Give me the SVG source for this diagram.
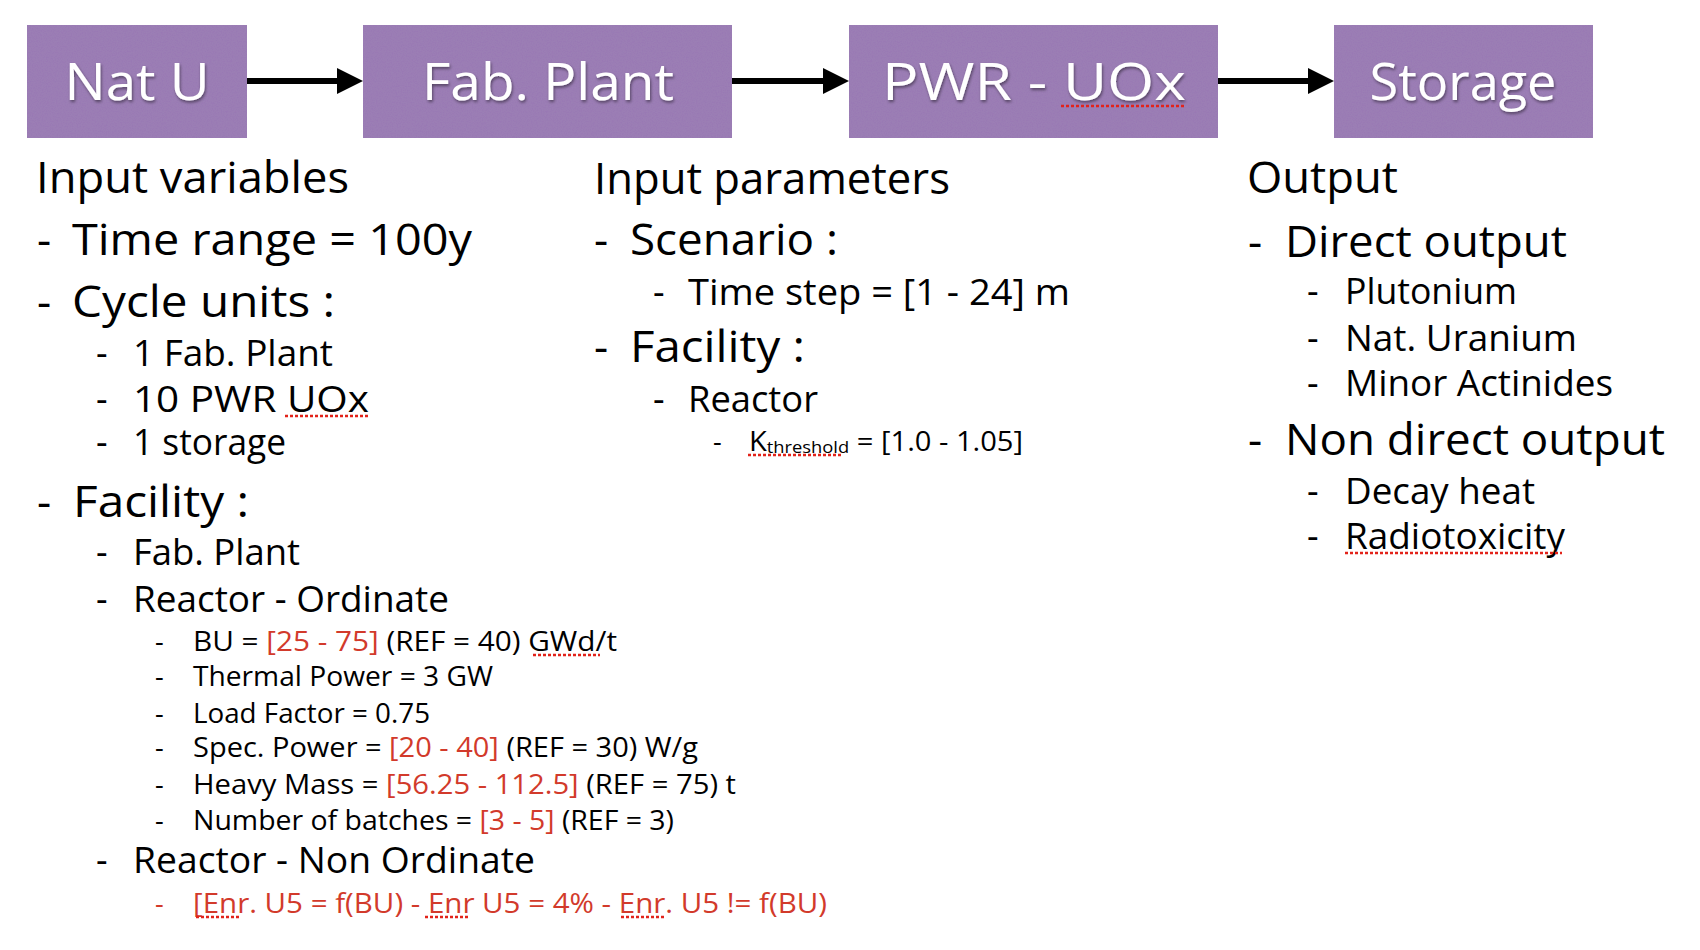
<svg xmlns="http://www.w3.org/2000/svg" width="1700" height="950" viewBox="0 0 1700 950">
<defs>
<style>
.t{font-family:"Open Sans","Liberation Sans",sans-serif;fill:#000}
.l1{font-size:44px}
.l2{font-size:36px}
.l3{font-size:27px}
.red{fill:#d23a2b}
.box{fill:#9878b4}
.bt{font-family:"Open Sans","Liberation Sans",sans-serif;font-size:52px;fill:#fff;text-anchor:middle;filter:url(#shadow)}
.sq{stroke:#e2231a;stroke-width:2.5;stroke-dasharray:3 2;fill:none}
.conn{stroke:#000;stroke-width:6;fill:none;marker-end:url(#arrow)}
</style>
<marker id="arrow" markerUnits="userSpaceOnUse" markerWidth="26" markerHeight="26" refX="3" refY="13" orient="auto">
<path d="M0,0 L26,13 L0,26 z" fill="#000"/>
</marker>
<filter id="shadow" x="-10%" y="-20%" width="120%" height="150%">
<feDropShadow dx="1" dy="2" stdDeviation="1.5" flood-color="#000" flood-opacity="0.45"/>
</filter>
<filter id="grain" x="0" y="0" width="100%" height="100%">
<feTurbulence type="fractalNoise" baseFrequency="0.8" numOctaves="2" seed="3" result="n"/>
<feColorMatrix in="n" type="matrix" values="0 0 0 0 0.5  0 0 0 0 0.45  0 0 0 0 0.55  0 0 0 0.12 0" result="g"/>
<feComposite in="g" in2="SourceGraphic" operator="in" result="gi"/>
<feMerge><feMergeNode in="SourceGraphic"/><feMergeNode in="gi"/></feMerge>
</filter>
</defs>
<rect width="1700" height="950" fill="#fff"/>

<g id="node-natu">
<rect class="box" x="27" y="25" width="220" height="113" filter="url(#grain)"/>
<text class="bt" x="137" y="100" textLength="145" lengthAdjust="spacingAndGlyphs">Nat U</text>
</g>
<g id="node-fabplant">
<rect class="box" x="363" y="25" width="369" height="113" filter="url(#grain)"/>
<text class="bt" x="548" y="100" textLength="252" lengthAdjust="spacingAndGlyphs">Fab. Plant</text>
</g>
<g id="node-pwr">
<rect class="box" x="849" y="25" width="369" height="113" filter="url(#grain)"/>
<text class="bt" x="1034" y="100" textLength="304" lengthAdjust="spacingAndGlyphs">PWR - UOx</text>
<line class="sq" x1="1061" y1="106" x2="1186" y2="106"/>
</g>
<g id="node-storage">
<rect class="box" x="1334" y="25" width="259" height="113" filter="url(#grain)"/>
<text class="bt" x="1463" y="100" textLength="187" lengthAdjust="spacingAndGlyphs">Storage</text>
</g>

<g id="connectors">
<line class="conn" x1="247" y1="81" x2="340" y2="81"/>
<line class="conn" x1="732" y1="81" x2="826" y2="81"/>
<line class="conn" x1="1218" y1="81" x2="1311" y2="81"/>
</g>

<g id="input-variables" class="t">
<text class="l1" x="36" y="193" textLength="313" lengthAdjust="spacingAndGlyphs">Input variables</text>
<text class="l1" x="37" y="255">-</text>
<text class="l1" x="72" y="255" textLength="400" lengthAdjust="spacingAndGlyphs">Time range = 100y</text>
<text class="l1" x="37" y="317">-</text>
<text class="l1" x="72" y="317" textLength="263" lengthAdjust="spacingAndGlyphs">Cycle units :</text>
<text class="l2" x="96" y="366">-</text>
<text class="l2" x="133" y="366" textLength="200" lengthAdjust="spacingAndGlyphs">1 Fab. Plant</text>
<text class="l2" x="96" y="412">-</text>
<text class="l2" x="133" y="412" textLength="236" lengthAdjust="spacingAndGlyphs">10 PWR UOx</text>
<line class="sq" x1="285" y1="416" x2="370" y2="416"/>
<text class="l2" x="96" y="455">-</text>
<text class="l2" x="133" y="455" textLength="153" lengthAdjust="spacingAndGlyphs">1 storage</text>
<text class="l1" x="37" y="517">-</text>
<text class="l1" x="73" y="517" textLength="176" lengthAdjust="spacingAndGlyphs">Facility :</text>
<text class="l2" x="96" y="565">-</text>
<text class="l2" x="133" y="565" textLength="167" lengthAdjust="spacingAndGlyphs">Fab. Plant</text>
<text class="l2" x="96" y="612">-</text>
<text class="l2" x="133" y="612" textLength="316" lengthAdjust="spacingAndGlyphs">Reactor - Ordinate</text>
<text class="l3" x="155" y="651">-</text>
<text class="l3" x="193" y="651" textLength="424" lengthAdjust="spacingAndGlyphs">BU = <tspan class="red">[25 - 75]</tspan> (REF = 40) GWd/t</text>
<line class="sq" x1="533" y1="655" x2="600" y2="655"/>
<text class="l3" x="155" y="686">-</text>
<text class="l3" x="193" y="686" textLength="300" lengthAdjust="spacingAndGlyphs">Thermal Power = 3 GW</text>
<text class="l3" x="155" y="723">-</text>
<text class="l3" x="193" y="723" textLength="237" lengthAdjust="spacingAndGlyphs">Load Factor = 0.75</text>
<text class="l3" x="155" y="757">-</text>
<text class="l3" x="193" y="757" textLength="505" lengthAdjust="spacingAndGlyphs">Spec. Power = <tspan class="red">[20 - 40]</tspan> (REF = 30) W/g</text>
<text class="l3" x="155" y="794">-</text>
<text class="l3" x="193" y="794" textLength="543" lengthAdjust="spacingAndGlyphs">Heavy Mass = <tspan class="red">[56.25 - 112.5]</tspan> (REF = 75) t</text>
<text class="l3" x="155" y="830">-</text>
<text class="l3" x="193" y="830" textLength="481" lengthAdjust="spacingAndGlyphs">Number of batches = <tspan class="red">[3 - 5]</tspan> (REF = 3)</text>
<text class="l2" x="96" y="873">-</text>
<text class="l2" x="133" y="873" textLength="402" lengthAdjust="spacingAndGlyphs">Reactor - Non Ordinate</text>
<text class="l3 red" x="155" y="913">-</text>
<text class="l3 red" x="193" y="913" textLength="634" lengthAdjust="spacingAndGlyphs">[Enr. U5 = f(BU) - Enr U5 = 4% - Enr. U5 != f(BU)</text>
<line class="sq" x1="196" y1="917" x2="239" y2="917"/>
<line class="sq" x1="425" y1="917" x2="468" y2="917"/>
<line class="sq" x1="621" y1="917" x2="665" y2="917"/>
</g>

<g id="input-parameters" class="t">
<text class="l1" x="594" y="194" textLength="356" lengthAdjust="spacingAndGlyphs">Input parameters</text>
<text class="l1" x="594" y="255">-</text>
<text class="l1" x="630" y="255" textLength="208" lengthAdjust="spacingAndGlyphs">Scenario :</text>
<text class="l2" x="653" y="305">-</text>
<text class="l2" x="688" y="305" textLength="382" lengthAdjust="spacingAndGlyphs">Time step = [1 - 24] m</text>
<text class="l1" x="594" y="362">-</text>
<text class="l1" x="630" y="362" textLength="175" lengthAdjust="spacingAndGlyphs">Facility :</text>
<text class="l2" x="653" y="412">-</text>
<text class="l2" x="688" y="412" textLength="130" lengthAdjust="spacingAndGlyphs">Reactor</text>
<text class="l3" x="713" y="451">-</text>
<text class="l3" x="749" y="451" textLength="274" lengthAdjust="spacingAndGlyphs">K<tspan font-size="17" dy="2">threshold</tspan><tspan dy="-2"> = [1.0 - 1.05]</tspan></text>
<line class="sq" x1="748" y1="455" x2="842" y2="455"/>
</g>

<g id="output" class="t">
<text class="l1" x="1247" y="193" textLength="151" lengthAdjust="spacingAndGlyphs">Output</text>
<text class="l1" x="1248" y="257">-</text>
<text class="l1" x="1285" y="257" textLength="282" lengthAdjust="spacingAndGlyphs">Direct output</text>
<text class="l2" x="1307" y="304">-</text>
<text class="l2" x="1345" y="304" textLength="172" lengthAdjust="spacingAndGlyphs">Plutonium</text>
<text class="l2" x="1307" y="351">-</text>
<text class="l2" x="1345" y="351" textLength="232" lengthAdjust="spacingAndGlyphs">Nat. Uranium</text>
<text class="l2" x="1307" y="396">-</text>
<text class="l2" x="1345" y="396" textLength="268" lengthAdjust="spacingAndGlyphs">Minor Actinides</text>
<text class="l1" x="1248" y="455">-</text>
<text class="l1" x="1285" y="455" textLength="380" lengthAdjust="spacingAndGlyphs">Non direct output</text>
<text class="l2" x="1307" y="504">-</text>
<text class="l2" x="1345" y="504" textLength="190" lengthAdjust="spacingAndGlyphs">Decay heat</text>
<text class="l2" x="1307" y="549">-</text>
<text class="l2" x="1345" y="549" textLength="220" lengthAdjust="spacingAndGlyphs">Radiotoxicity</text>
<line class="sq" x1="1345" y1="553" x2="1562" y2="553"/>
</g>
</svg>
